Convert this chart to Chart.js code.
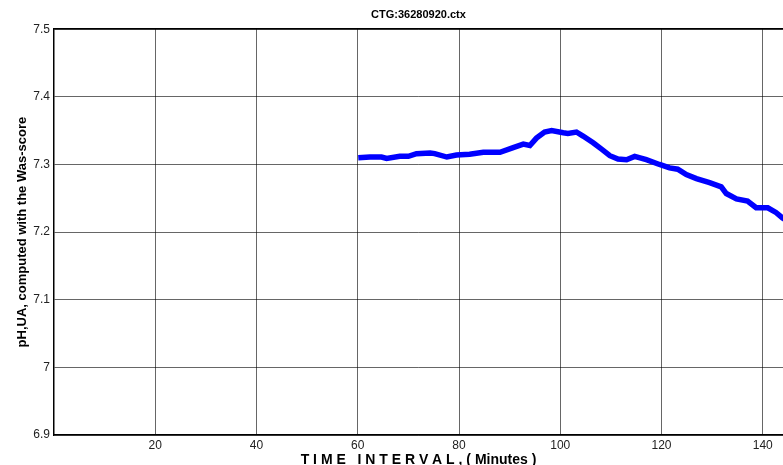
<!DOCTYPE html>
<html>
<head>
<meta charset="utf-8">
<script src="https://cdn.jsdelivr.net/npm/chart.js@4/dist/chart.umd.min.js"></script>
<style>
  html, body { margin: 0; padding: 0; background: #fff; }
  #wrap { width: 783px; height: 465px; }
</style>
</head>
<body>
<div id="wrap"><canvas id="chart" width="783" height="465"></canvas></div>
<script>
// time in minutes and the pH estimate
const timeMin = [60.1, 62.4, 64.7, 65.7, 68.3, 70.0, 71.6, 74.3, 75.2, 77.6,
  79.5, 82.1, 84.8, 88.1, 90.7, 92.7, 94.0, 95.3, 96.9, 98.3,
  100.6, 101.5, 103.2, 104.5, 106.5, 108.1, 109.8, 111.4, 113.1, 114.7,
  117.0, 119.6, 121.6, 123.2, 124.9, 126.9, 129.5, 131.8, 132.8, 134.8,
  137.0, 138.7, 141.0, 142.6, 143.9, 145.0];
const phValues = [7.310, 7.311, 7.311, 7.309, 7.312, 7.312, 7.316, 7.317, 7.316, 7.311,
  7.314, 7.315, 7.318, 7.318, 7.325, 7.330, 7.328, 7.339, 7.348, 7.350,
  7.347, 7.346, 7.348, 7.342, 7.332, 7.323, 7.313, 7.308, 7.307, 7.312,
  7.307, 7.300, 7.295, 7.293, 7.285, 7.279, 7.273, 7.267, 7.257, 7.249,
  7.246, 7.236, 7.236, 7.229, 7.221, 7.216];
const xTicks = [20, 40, 60, 80, 100, 120, 140];
const yTicks = [6.9, 7.0, 7.1, 7.2, 7.3, 7.4, 7.5];

const points = timeMin.map((t, i) => ({ x: t, y: phValues[i] }));
const gridColor = "rgba(0,0,0,0.6)";
const fontFamily = "Liberation Sans, Arial, sans-serif";
const tickFont = { family: fontFamily, size: 12 };

new Chart(document.getElementById("chart").getContext("2d"), {
  type: "line",
  data: {
    datasets: [{
      data: points,
      borderColor: "#0000ff",
      borderWidth: 5.5,
      pointRadius: 0,
      tension: 0,
      fill: false
    }]
  },
  options: {
    responsive: false,
    animation: false,
    layout: { padding: { top: 2, right: 0, bottom: 0, left: 0 } },
    plugins: {
      legend: { display: false },
      tooltip: { enabled: false },
      title: {
        display: true,
        text: "CTG:36280920.ctx",
        fullSize: false,
        color: "#000",
        font: { family: fontFamily, size: 11, weight: "bold" },
        padding: { top: 6, bottom: 8 }
      }
    },
    scales: {
      x: {
        type: "linear",
        min: 0,
        max: 144,
        afterBuildTicks: (s) => { s.ticks = xTicks.map(v => ({ value: v })); },
        afterFit: (s) => { s.height = 30; },
        ticks: { color: "#222", font: tickFont, padding: 3, maxRotation: 0 },
        grid: { color: gridColor, lineWidth: 1, drawTicks: false },
        border: { display: true, color: "#000", width: 1.5 },
        title: {
          display: true,
          text: "T I M E   I N T E R V A L , ( Minutes )",
          color: "#000",
          font: { family: fontFamily, size: 14, weight: "bold" },
          padding: { top: 0, bottom: -4 }
        }
      },
      x2: {
        type: "linear",
        position: "top",
        min: 0,
        max: 144,
        afterFit: (s) => { s.height = 0; },
        ticks: { display: false },
        grid: { display: false },
        border: { display: true, color: "#000", width: 1.5 }
      },
      y: {
        min: 6.9,
        max: 7.5,
        afterBuildTicks: (s) => { s.ticks = yTicks.map(v => ({ value: v })); },
        afterFit: (s) => { s.width = 54; },
        ticks: {
          color: "#222",
          font: tickFont,
          padding: 4,
          callback: (v) => String(Number(v.toFixed(1)))
        },
        grid: { color: gridColor, lineWidth: 1, drawTicks: false },
        border: { display: true, color: "#000", width: 1.5 },
        title: {
          display: true,
          text: "pH,UA, computed with the Was-score",
          color: "#000",
          font: { family: fontFamily, size: 13, weight: "bold" },
          padding: { top: 15, bottom: 0 }
        }
      }
    }
  }
});
</script>
</body>
</html>
